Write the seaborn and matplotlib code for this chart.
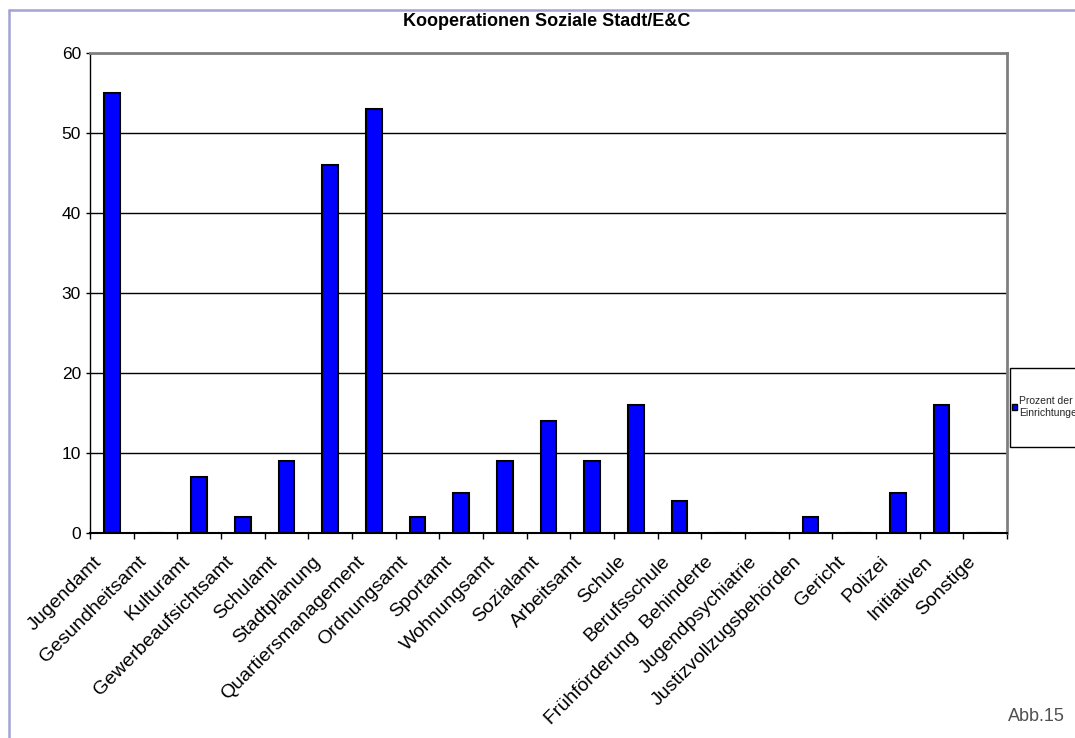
import numpy as np
import pandas as pd
import seaborn as sns
import matplotlib.pyplot as plt
from matplotlib.lines import Line2D
from matplotlib.patches import Rectangle
from matplotlib.transforms import ScaledTranslation

# Daten (Prozent der Einrichtungen)
kategorien = ['Jugendamt', 'Gesundheitsamt', 'Kulturamt', 'Gewerbeaufsichtsamt',
              'Schulamt', 'Stadtplanung', 'Quartiersmanagement', 'Ordnungsamt',
              'Sportamt', 'Wohnungsamt', 'Sozialamt', 'Arbeitsamt', 'Schule',
              'Berufsschule', 'Frühförderung  Behinderte', 'Jugendpsychiatrie',
              'Justizvollzugsbehörden', 'Gericht', 'Polizei', 'Initiativen', 'Sonstige']
prozent = [55, 0, 7, 2, 9, 46, 53, 2, 5, 9, 14, 9, 16, 4, 0, 0, 2, 0, 5, 16, 0]
y_ticks = [0, 10, 20, 30, 40, 50, 60]

df = pd.DataFrame({'Kategorie': kategorien, 'Prozent': prozent})

sns.set_theme(style="white")
plt.rcParams['font.family'] = ['Liberation Sans', 'DejaVu Sans']

W, H = 1075, 738
fig = plt.figure(figsize=(W / 100, H / 100), dpi=100)
ax = fig.add_axes([90 / W, 1 - 533 / H, 917 / W, 480 / H])

sns.barplot(data=df, x='Kategorie', y='Prozent', color='#0000ff', saturation=1,
            width=0.36, edgecolor='black', linewidth=1.5,
            label='Prozent der\nEinrichtungen', ax=ax)

# Achsen
ax.set_xlim(-0.5, len(kategorien) - 0.5)
ax.set_ylim(0, 60)
ax.set_yticks(y_ticks)
ax.set_xlabel('')
ax.set_ylabel('')
ax.yaxis.grid(True, color='black', linewidth=1)
ax.set_axisbelow(True)

for s in ['top', 'right']:
    ax.spines[s].set_color('#808080')
    ax.spines[s].set_linewidth(2)
ax.spines['left'].set_color('black')
ax.spines['left'].set_linewidth(1)
ax.spines['bottom'].set_color('black')
ax.spines['bottom'].set_linewidth(1.5)

ax.tick_params(axis='y', left=True, length=3, width=1, color='black',
               labelsize=12.5, pad=3.5, labelcolor='black')
ax.set_xticks(np.arange(len(kategorien)))
ax.set_xticklabels(kategorien, rotation=45, ha='right', va='baseline',
                   rotation_mode='anchor', fontsize=14, color='black')
ax.set_xticks(np.arange(len(kategorien) + 1) - 0.5, minor=True)
ax.tick_params(axis='x', which='major', length=0, pad=21)
ax.tick_params(axis='x', which='minor', bottom=True, length=4, width=1, color='black')
for lab in ax.get_xticklabels():
    lab.set_transform(lab.get_transform() + ScaledTranslation(-0.09, 0, fig.dpi_scale_trans))

# Titel
fig.text(547 / W, 1 - 21 / H, 'Kooperationen Soziale Stadt/E&C', ha='center', va='center',
         fontsize=13, fontweight='bold', color='black')

# Legende
fig.add_artist(Rectangle((1010 / W, 1 - 447 / H), 80 / W, 79 / H,
                         transform=fig.transFigure, facecolor='white',
                         edgecolor='black', linewidth=1, zorder=-1))
leg = ax.legend(loc='center left', bbox_to_anchor=(1012 / W, 1 - 407 / H),
                bbox_transform=fig.transFigure, fontsize=7.5, frameon=False,
                handlelength=0.45, handleheight=0.45, handletextpad=0.25,
                borderpad=0, borderaxespad=0, labelspacing=0)
for h in leg.legend_handles:
    h.set_linewidth(1)

# Rahmen & Abbildungsnummer
fig.add_artist(Line2D([8.5 / W, 1], [1 - 9.5 / H, 1 - 9.5 / H], color='#a3a3d6', linewidth=1.8))
fig.add_artist(Line2D([8.5 / W, 8.5 / W], [0, 1 - 9.5 / H], color='#a3a3d6', linewidth=1.8))
fig.text(1065 / W, 1 - 721 / H, 'Abb.15', ha='right', va='baseline',
         fontsize=13, color='#505050')

fig.savefig('out.png', dpi=100)
